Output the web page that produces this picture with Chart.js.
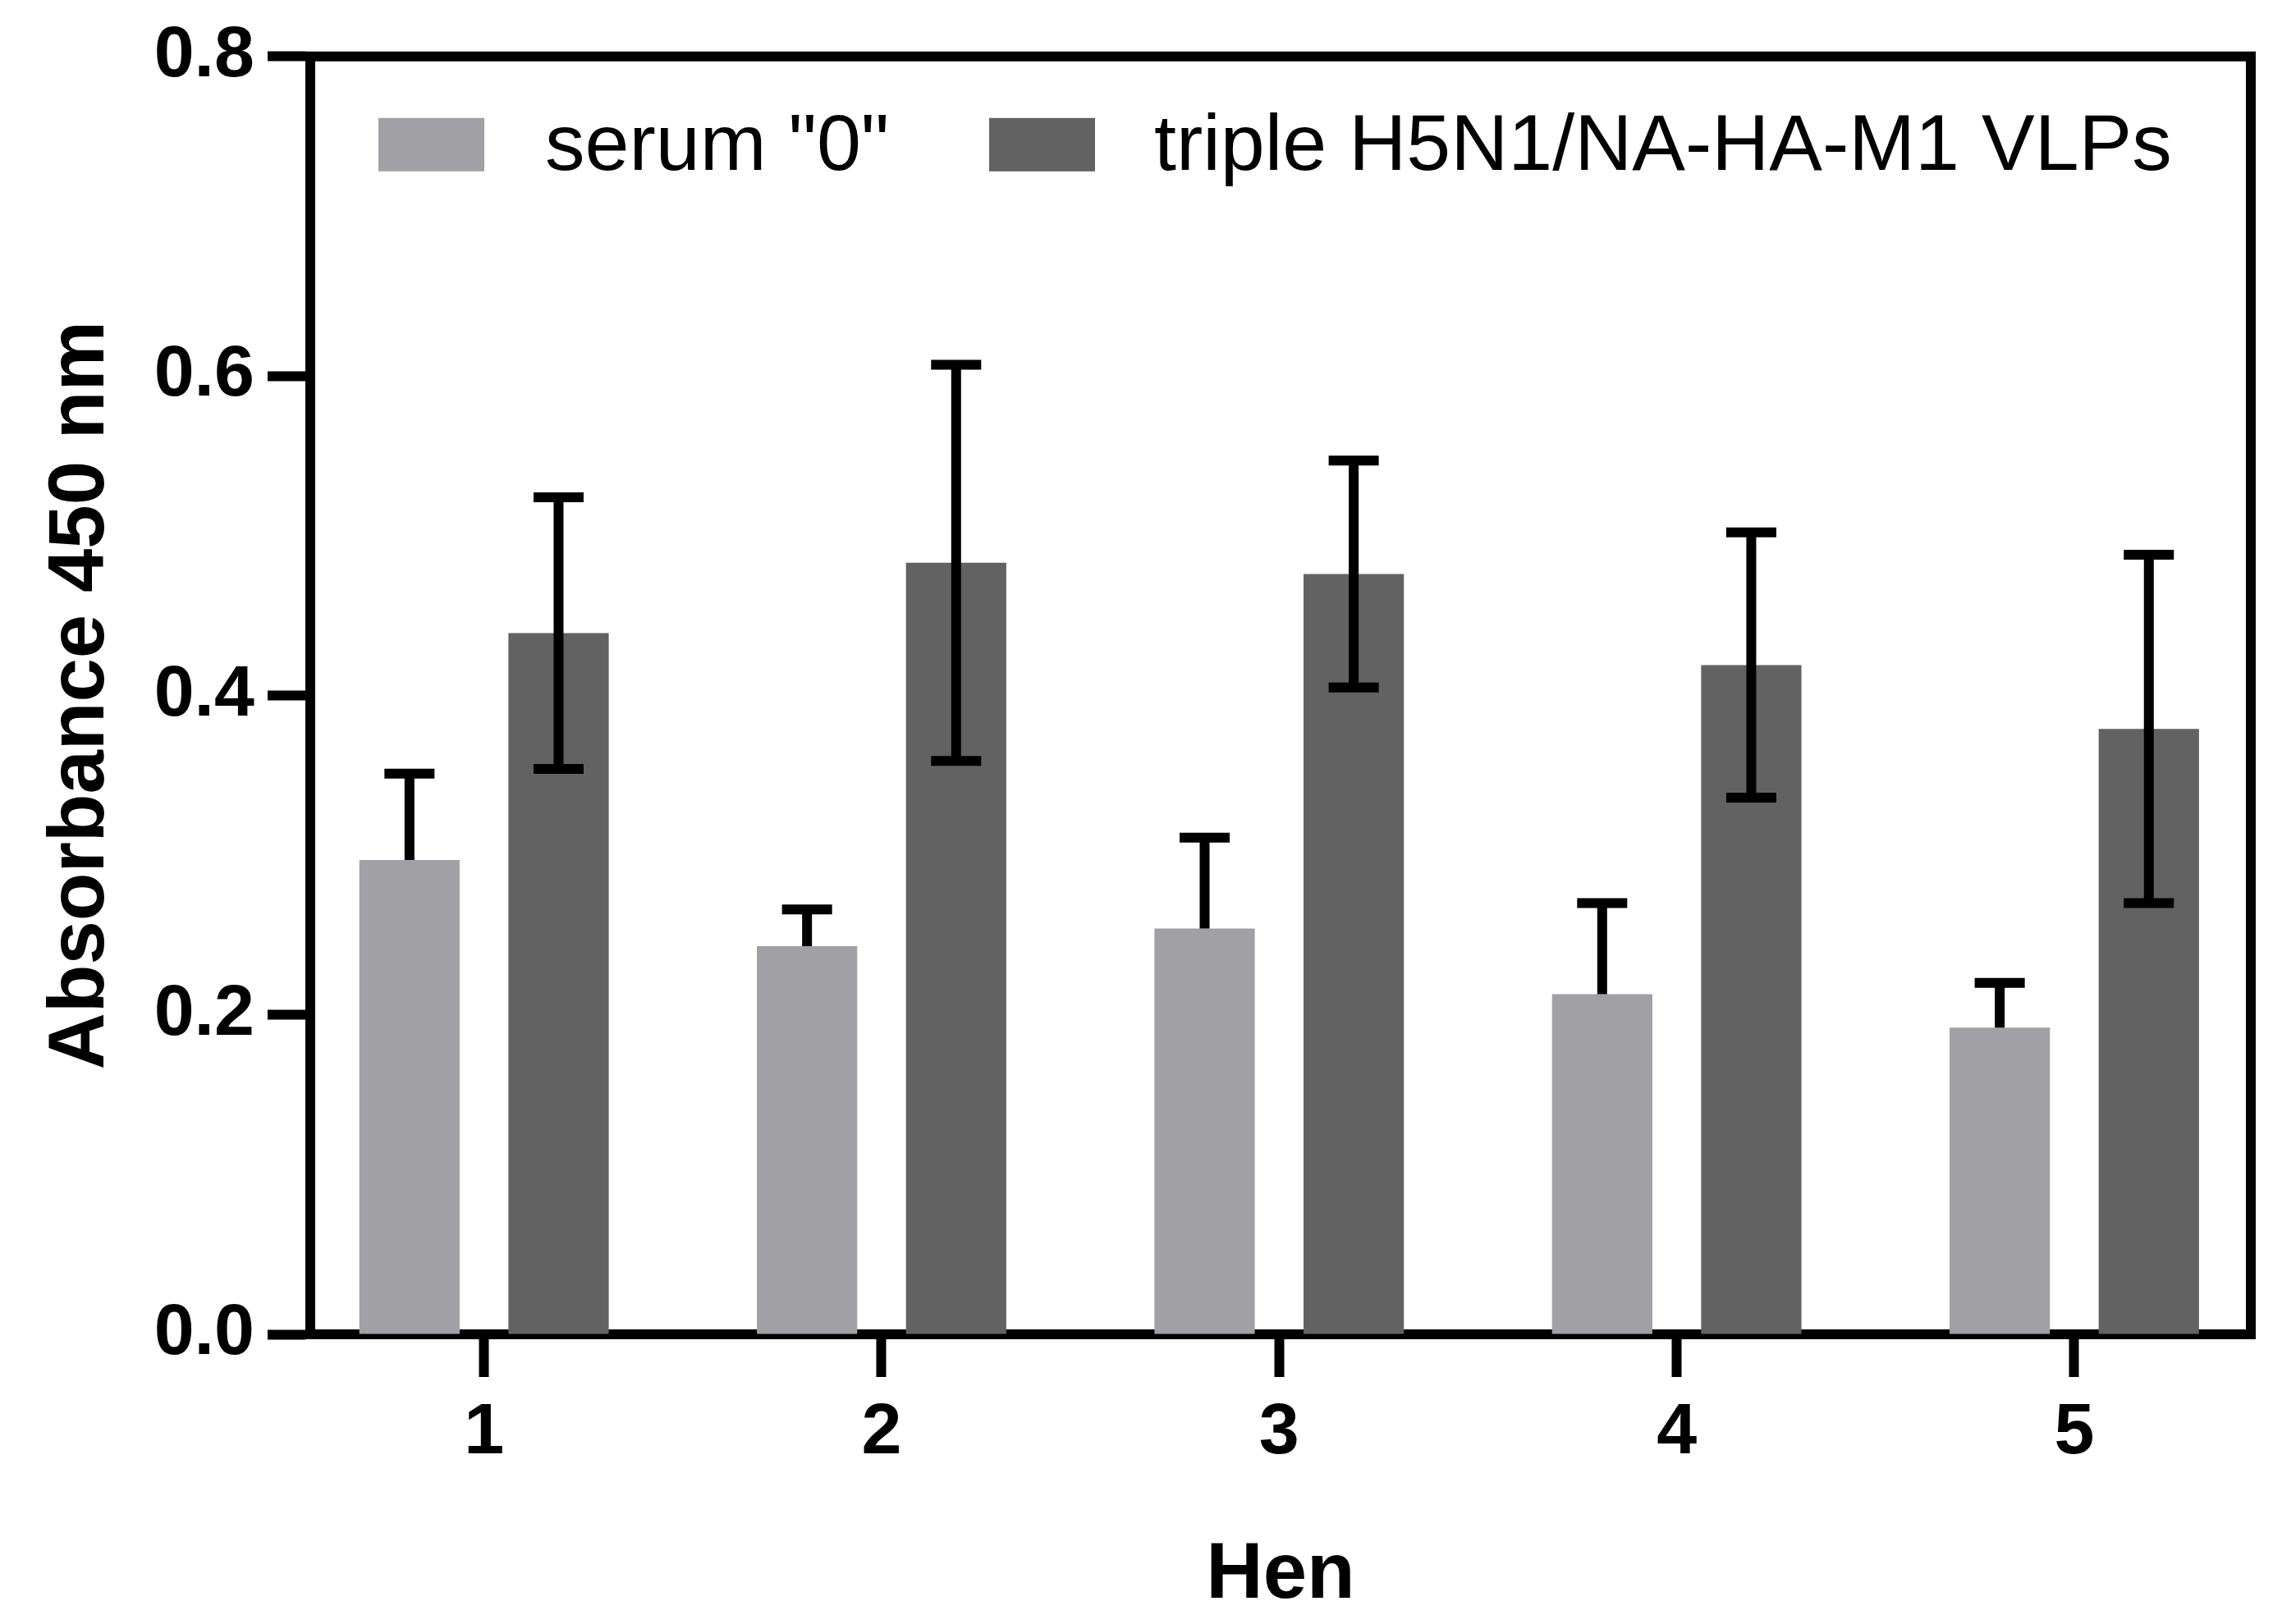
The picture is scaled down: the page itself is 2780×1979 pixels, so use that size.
<!DOCTYPE html>
<html>
<head>
<meta charset="utf-8">
<script src="https://cdn.jsdelivr.net/npm/chart.js@4.4.1/dist/chart.umd.min.js"></script>
<style>
    html, body { margin: 0; padding: 0; background: #fff; }
    #wrap { width: 2780px; height: 1979px; }
</style>
</head>
<body>
<div id="wrap"><canvas id="myBarChart" width="2780" height="1979"></canvas></div>
<script>
// data
var hens = [1, 2, 3, 4, 5];
var seriesNames = ['serum "0"', "triple H5N1/NA-HA-M1 VLPs"];
var serumValues = [0.297, 0.243, 0.254, 0.213, 0.192];
var serumErrors = [0.054, 0.023, 0.057, 0.057, 0.028];
var vlpValues = [0.439, 0.483, 0.476, 0.419, 0.379];
var vlpErrors = [0.085, 0.124, 0.071, 0.083, 0.109];
var yTicks = [0, 0.2, 0.4, 0.6, 0.8];

var lightGrey = "#a1a0a4";
var darkGrey = "#626262";
var fontFamily = "'Liberation Sans', Arial, Helvetica, sans-serif";
var lineW = 12;

function toPoints(values) {
    return hens.map(function (h, i) { return { x: h, y: values[i] }; });
}

// error bars: serum only upwards, VLPs both ways
var errorBarPlugin = {
    id: "errorBars",
    afterDatasetsDraw: function (chart) {
        var ctx = chart.ctx;
        var yScale = chart.scales.y;
        var errs = [serumErrors, vlpErrors];
        var vals = [serumValues, vlpValues];
        ctx.save();
        ctx.strokeStyle = "#000";
        ctx.lineWidth = lineW;
        ctx.lineCap = "butt";
        for (var d = 0; d < 2; d++) {
            var meta = chart.getDatasetMeta(d);
            meta.data.forEach(function (bar, i) {
                var v = vals[d][i], e = errs[d][i];
                var yHi = yScale.getPixelForValue(v + e);
                var yLo = d === 0 ? bar.y : yScale.getPixelForValue(v - e);
                var half = 30.5;
                ctx.beginPath();
                ctx.moveTo(bar.x, yLo);
                ctx.lineTo(bar.x, yHi);
                ctx.stroke();
                ctx.beginPath();
                ctx.moveTo(bar.x - half, yHi);
                ctx.lineTo(bar.x + half, yHi);
                if (d === 1) {
                    ctx.moveTo(bar.x - half, yLo);
                    ctx.lineTo(bar.x + half, yLo);
                }
                ctx.stroke();
            });
        }
        ctx.restore();
    }
};

// top and right side of the frame, plus the legend inside the plot
var framePlugin = {
    id: "frame",
    afterDraw: function (chart) {
        var ctx = chart.ctx;
        var a = chart.chartArea;
        ctx.save();
        ctx.strokeStyle = "#000";
        ctx.lineWidth = lineW;
        ctx.beginPath();
        ctx.moveTo(a.left - lineW / 2, a.top);
        ctx.lineTo(a.right + lineW / 2, a.top);
        ctx.moveTo(a.right, a.top - lineW / 2);
        ctx.lineTo(a.right, a.bottom + lineW / 2);
        ctx.stroke();

        var colors = [lightGrey, darkGrey];
        var swatchX = [a.left + 83, a.left + 827];
        var textX = [a.left + 286, a.left + 1028];
        ctx.font = "97px " + fontFamily;
        ctx.fillStyle = "#000";
        ctx.textBaseline = "alphabetic";
        ctx.textAlign = "left";
        for (var i = 0; i < 2; i++) {
            ctx.fillStyle = colors[i];
            ctx.fillRect(swatchX[i], a.top + 75, 129, 65);
            ctx.fillStyle = "#000";
            ctx.fillText(seriesNames[i], textX[i], a.top + 138);
        }
        ctx.restore();
    }
};

function displayBarChart() {
    var canvasID = document.getElementById("myBarChart");

    var barData = {
        datasets: [{
            label: seriesNames[0],
            backgroundColor: lightGrey,
            borderWidth: 0,
            data: toPoints(serumValues)
        }, {
            label: seriesNames[1],
            backgroundColor: darkGrey,
            borderWidth: 0,
            data: toPoints(vlpValues)
        }]
    };

    var barOptions = {
        responsive: false,
        animation: false,
        devicePixelRatio: 1,
        categoryPercentage: 0.75,
        barPercentage: 0.673,
        layout: {
            padding: { top: 62, right: 38, left: 0, bottom: 0 }
        },
        plugins: {
            legend: { display: false },
            tooltip: { enabled: false }
        },
        scales: {
            x: {
                type: "linear",
                min: 0.563,
                max: 5.444,
                offset: false,
                afterBuildTicks: function (scale) {
                    scale.ticks = hens.map(function (h) { return { value: h }; });
                },
                afterFit: function (scale) { scale.height = 353; },
                ticks: {
                    color: "#000",
                    padding: 16,
                    maxRotation: 0,
                    font: { family: fontFamily, size: 88, weight: "bold" },
                    callback: function (v) { return String(v); }
                },
                grid: {
                    offset: false,
                    drawOnChartArea: false,
                    drawTicks: true,
                    tickLength: 52,
                    tickWidth: lineW,
                    tickColor: "#000"
                },
                border: { display: true, color: "#000", width: lineW },
                title: {
                    display: true,
                    text: "Hen",
                    color: "#000",
                    padding: { top: 0, bottom: 1 },
                    font: { family: fontFamily, size: 96, weight: "bold" }
                }
            },
            y: {
                min: 0,
                max: 0.8,
                afterBuildTicks: function (scale) {
                    scale.ticks = yTicks.map(function (t) { return { value: t }; });
                },
                afterFit: function (scale) { scale.width = 378; },
                ticks: {
                    color: "#000",
                    padding: 16,
                    font: { family: fontFamily, size: 88, weight: "bold" },
                    callback: function (v) { return Number(v).toFixed(1); }
                },
                grid: {
                    drawOnChartArea: false,
                    drawTicks: true,
                    tickLength: 52,
                    tickWidth: lineW,
                    tickColor: "#000"
                },
                border: { display: true, color: "#000", width: lineW },
                title: {
                    display: true,
                    text: "Absorbance 450 nm",
                    color: "#000",
                    padding: { top: 42, bottom: 0 },
                    font: { family: fontFamily, size: 96, weight: "bold" }
                }
            }
        }
    };

    myBarChart = new Chart(canvasID, {
        type: "bar",
        data: barData,
        options: barOptions,
        plugins: [errorBarPlugin, framePlugin]
    });
    return myBarChart;
}

var myBarChart;
displayBarChart();
</script>
</body>
</html>
